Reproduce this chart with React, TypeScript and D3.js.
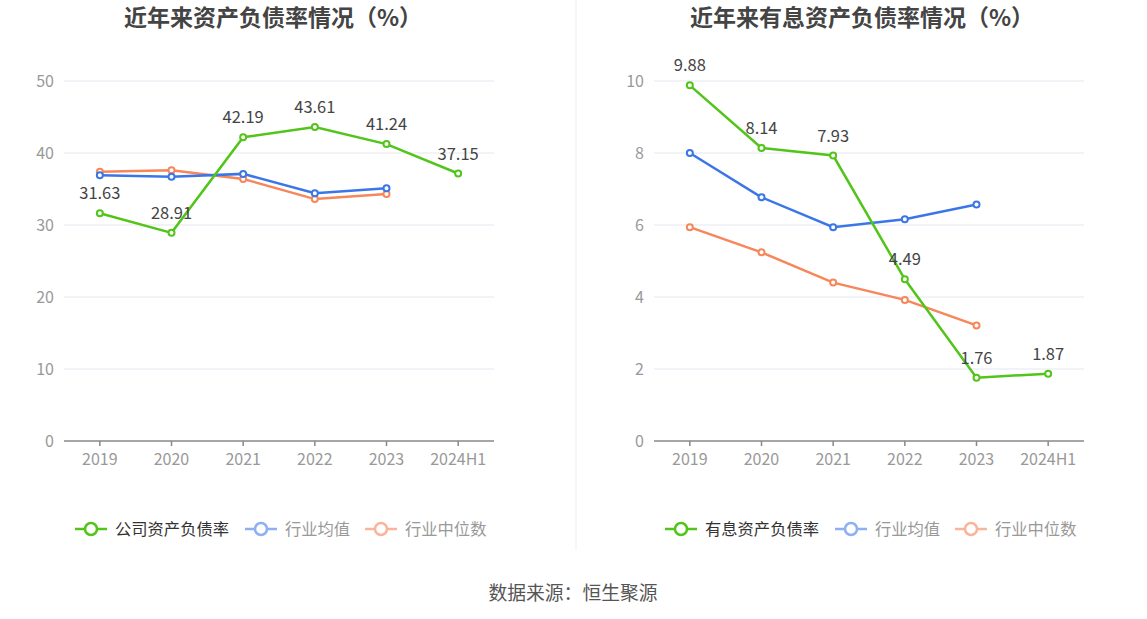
import React from "react";
import * as d3 from "d3";

const years = ["2019", "2020", "2021", "2022", "2023", "2024H1"];

// left chart
const debtRatio = [31.63, 28.91, 42.19, 43.61, 41.24, 37.15];
const debtAvg = [36.9, 36.7, 37.1, 34.4, 35.1];
const debtMedian = [37.4, 37.6, 36.4, 33.6, 34.3];
const debtTicks = [0, 10, 20, 30, 40, 50];

// right chart
const interestRatio = [9.88, 8.14, 7.93, 4.49, 1.76, 1.87];
const interestAvg = [8.0, 6.77, 5.94, 6.16, 6.57];
const interestMedian = [5.94, 5.24, 4.4, 3.92, 3.21];
const interestTicks = [0, 2, 4, 6, 8, 10];

const GREEN = "#52c41a";
const BLUE = "#3b76e8";
const ORANGE = "#f7865a";
const FONT = "'Noto Sans CJK SC', 'Noto Sans', sans-serif";

interface PanelProps {
  x0: number;
  titleX: number;
  title: string;
  main: number[];
  avg: number[];
  median: number[];
  ticks: number[];
  mainName: string;
}

const Panel: React.FC<PanelProps> = ({ x0, titleX, title, main, avg, median, ticks, mainName }) => {
  const left = x0 + 64;
  const right = x0 + 494;
  const top = 81;
  const bottom = 441;

  const x = d3.scaleBand<string>().domain(years).range([left, right]);
  const y = d3
    .scaleLinear()
    .domain([0, d3.max(ticks) || 0])
    .range([bottom, top]);
  const cx = (i: number) => (x(years[i]) || 0) + x.bandwidth() / 2;

  const line = d3
    .line<number>()
    .x((_, i) => cx(i))
    .y((d) => y(d));

  const series = [
    { values: median, color: ORANGE },
    { values: avg, color: BLUE },
    { values: main, color: GREEN },
  ];

  const legend = [
    { name: mainName, color: GREEN, text: "#333", x: 11 },
    { name: "行业均值", color: "#8eb0f2", text: "#999", x: 181 },
    { name: "行业中位数", color: "#f9b59b", text: "#999", x: 301 },
  ];

  return (
    <g fontFamily={FONT}>
      <text
        x={titleX}
        y={26}
        textAnchor="middle"
        fontSize={23}
        fontWeight="bold"
        fill="#444"
      >
        {title}
      </text>

      {ticks.map((t) => (
        <g key={t}>
          {t > 0 && (
            <line x1={left} x2={right} y1={y(t)} y2={y(t)} stroke="#e3e7f0" strokeWidth={1} />
          )}
          <text x={left - 10} y={y(t)} dy="0.35em" textAnchor="end" fontSize={16} fill="#999">
            {t}
          </text>
        </g>
      ))}

      <line x1={left} x2={right} y1={bottom} y2={bottom} stroke="#888" strokeWidth={1.5} />
      {years.map((yr, i) => (
        <g key={yr}>
          <line x1={cx(i)} x2={cx(i)} y1={bottom} y2={bottom + 5} stroke="#888" strokeWidth={1.5} />
          <text x={cx(i)} y={bottom + 24} textAnchor="middle" fontSize={16} fill="#999">
            {yr}
          </text>
        </g>
      ))}

      {series.map((s, si) => (
        <g key={si}>
          <path d={line(s.values) || ""} fill="none" stroke={s.color} strokeWidth={2.5} />
          {s.values.map((v, i) => (
            <circle key={i} cx={cx(i)} cy={y(v)} r={3} fill="#fff" stroke={s.color} strokeWidth={2} />
          ))}
        </g>
      ))}

      {main.map((v, i) => (
        <text key={i} x={cx(i)} y={y(v) - 14} textAnchor="middle" fontSize={16.5} fill="#444">
          {v.toFixed(2)}
        </text>
      ))}

      {legend.map((l) => (
        <g key={l.name} transform={`translate(${x0 + l.x + 64},529)`}>
          <line x1={0} x2={32} y1={0} y2={0} stroke={l.color} strokeWidth={2.5} />
          <circle cx={16} cy={0} r={6} fill="#fff" stroke={l.color} strokeWidth={2.5} />
          <text x={40} y={0} dy="0.35em" fontSize={16.3} fill={l.text}>
            {l.name}
          </text>
        </g>
      ))}
    </g>
  );
};

const App: React.FC = () => {
  return (
    <div style={{ position: "absolute", left: 0, top: 0 }}>
      <svg width={1147} height={619} style={{ display: "block", background: "#fff" }}>
        <line x1={576} x2={576} y1={0} y2={550} stroke="#eeeeee" strokeWidth={1} />
        <Panel
          x0={0}
          titleX={273}
          title="近年来资产负债率情况（%）"
          main={debtRatio}
          avg={debtAvg}
          median={debtMedian}
          ticks={debtTicks}
          mainName="公司资产负债率"
        />
        <Panel
          x0={590}
          titleX={862}
          title="近年来有息资产负债率情况（%）"
          main={interestRatio}
          avg={interestAvg}
          median={interestMedian}
          ticks={interestTicks}
          mainName="有息资产负债率"
        />
        <text
          x={573}
          y={600}
          textAnchor="middle"
          fontSize={18.8}
          fill="#555"
          fontFamily={FONT}
        >
          数据来源：恒生聚源
        </text>
      </svg>
    </div>
  );
};

export default App;
